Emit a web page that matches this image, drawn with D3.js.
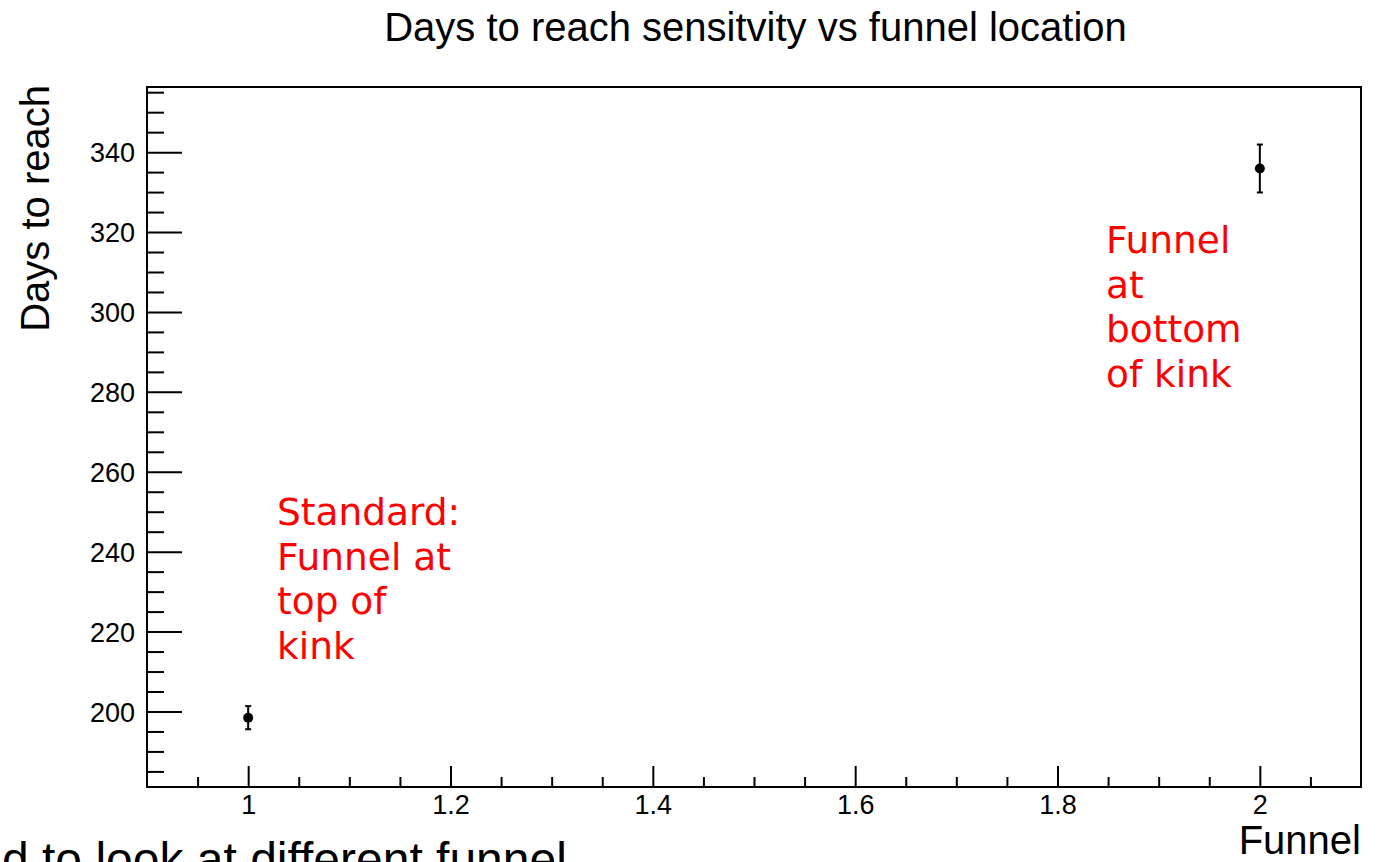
<!DOCTYPE html>
<html>
<head>
<meta charset="utf-8">
<script src="https://cdn.jsdelivr.net/npm/d3@7"></script>
<style>
  html, body { margin: 0; padding: 0; background: #fff; overflow: hidden; }
  svg { display: block; }
</style>
</head>
<body>
<script>
// Measured points: funnel location vs days to reach sensitivity
const funnelPos = [1, 2];
const daysToReach = [198.45, 335.9];
const daysError = [2.9, 6.0];

// Axis ticks
const xMajorTicks = [1, 1.2, 1.4, 1.6, 1.8, 2];
const yMajorTicks = [200, 220, 240, 260, 280, 300, 320, 340];

// Text labels
const titleText = "Days to reach sensitvity vs funnel location";
const xTitle = "Funnel";
const yTitle = "Days to reach";
const footText = "d to look at different funnel";
const noteLeft = ["Standard:", "Funnel at", "top of", "kink"];
const noteRight = ["Funnel", "at", "bottom", "of kink"];

const W = 1384, H = 862;
const frame = { left: 147, right: 1361, top: 87, bottom: 787 };

const svg = d3.select("body").append("svg")
  .attr("width", W).attr("height", H);

const x = d3.scaleLinear().domain([0.9, 2.1]).range([frame.left, frame.right]);
const y = d3.scaleLinear().domain([181.1, 356.3]).range([frame.bottom, frame.top]);

const sans = "'Liberation Sans', Arial, Helvetica, sans-serif";

// Title
svg.append("text")
  .attr("x", 755.5).attr("y", 41)
  .attr("text-anchor", "middle")
  .attr("font-family", sans).attr("font-size", 40)
  .text(titleText);

// Minor ticks
const xMinor = d3.range(0.95, 2.1, 0.05).map(v => +v.toFixed(2))
  .filter(v => !xMajorTicks.some(m => Math.abs(m - v) < 1e-6));
const yMinor = d3.range(185, 357, 5)
  .filter(v => !yMajorTicks.includes(v));

// X axis (bottom)
const xAxis = d3.axisBottom(x).tickValues(xMajorTicks)
  .tickFormat(d3.format("")).tickSizeInner(-21).tickSizeOuter(0).tickPadding(27);
const gx = svg.append("g").attr("transform", `translate(0,${frame.bottom})`).call(xAxis);
gx.select(".domain").remove();
gx.selectAll(".tick line").attr("stroke", "#000").attr("stroke-width", 2);
gx.selectAll(".tick text").attr("font-family", sans).attr("font-size", 27).attr("fill", "#000")
  .attr("dy", "0");
svg.append("g").attr("transform", `translate(0,${frame.bottom})`)
  .call(d3.axisBottom(x).tickValues(xMinor).tickSizeInner(-10).tickSizeOuter(0).tickFormat(""))
  .call(g => g.select(".domain").remove())
  .selectAll(".tick line").attr("stroke", "#000").attr("stroke-width", 2);

// Y axis (left)
const yAxis = d3.axisLeft(y).tickValues(yMajorTicks)
  .tickSizeInner(-35).tickSizeOuter(0).tickPadding(12);
const gy = svg.append("g").attr("transform", `translate(${frame.left},0)`).call(yAxis);
gy.select(".domain").remove();
gy.selectAll(".tick line").attr("stroke", "#000").attr("stroke-width", 2);
gy.selectAll(".tick text").attr("font-family", sans).attr("font-size", 27).attr("fill", "#000")
  .attr("dy", "0.36em");
svg.append("g").attr("transform", `translate(${frame.left},0)`)
  .call(d3.axisLeft(y).tickValues(yMinor).tickSizeInner(-17).tickSizeOuter(0).tickFormat(""))
  .call(g => g.select(".domain").remove())
  .selectAll(".tick line").attr("stroke", "#000").attr("stroke-width", 2);

// Frame
svg.append("rect")
  .attr("x", frame.left).attr("y", frame.top)
  .attr("width", frame.right - frame.left).attr("height", frame.bottom - frame.top)
  .attr("fill", "none").attr("stroke", "#000").attr("stroke-width", 2);

// Axis titles
svg.append("text")
  .attr("x", frame.right).attr("y", 854)
  .attr("text-anchor", "end")
  .attr("font-family", sans).attr("font-size", 40)
  .text(xTitle);
svg.append("text")
  .attr("transform", `translate(49,${frame.top - 2}) rotate(-90)`)
  .attr("text-anchor", "end")
  .attr("font-family", sans).attr("font-size", 40)
  .text(yTitle);

// Footer text, partly running off the canvas
svg.append("text")
  .attr("x", 2).attr("y", 876)
  .attr("font-family", sans).attr("font-size", 48)
  .text(footText);

// Data points with error bars
const pts = funnelPos.map((f, i) => ({ f, v: daysToReach[i], e: daysError[i] }));
const gp = svg.append("g");
gp.selectAll("line.err").data(pts).join("line")
  .attr("x1", d => x(d.f)).attr("x2", d => x(d.f))
  .attr("y1", d => y(d.v + d.e)).attr("y2", d => y(d.v - d.e))
  .attr("stroke", "#000").attr("stroke-width", 2);
gp.selectAll("line.capT").data(pts).join("line")
  .attr("x1", d => x(d.f) - 3).attr("x2", d => x(d.f) + 3)
  .attr("y1", d => y(d.v + d.e)).attr("y2", d => y(d.v + d.e))
  .attr("stroke", "#000").attr("stroke-width", 2);
gp.selectAll("line.capB").data(pts).join("line")
  .attr("x1", d => x(d.f) - 3).attr("x2", d => x(d.f) + 3)
  .attr("y1", d => y(d.v - d.e)).attr("y2", d => y(d.v - d.e))
  .attr("stroke", "#000").attr("stroke-width", 2);
gp.selectAll("circle").data(pts).join("circle")
  .attr("cx", d => x(d.f)).attr("cy", d => y(d.v)).attr("r", 5)
  .attr("fill", "#000");

// Red annotations
const dejavu = "'DejaVu Sans', sans-serif";
function note(lines, x0, y0) {
  const t = svg.append("text")
    .attr("font-family", dejavu).attr("font-size", 37.5).attr("fill", "#ff0000");
  lines.forEach((s, i) => t.append("tspan").attr("x", x0).attr("y", y0 + i * 44.7).text(s));
}
note(noteLeft, 277, 525);
note(noteRight, 1106, 253);
</script>
</body>
</html>
